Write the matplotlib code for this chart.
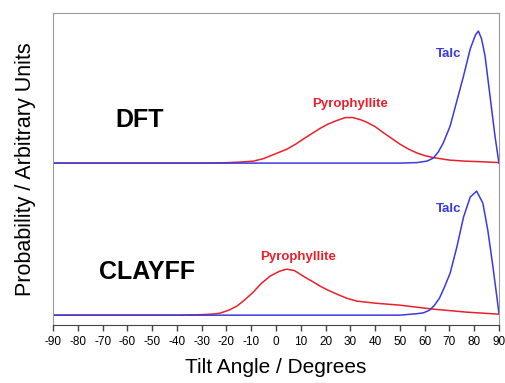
import matplotlib.pyplot as plt
import numpy as np

plt.rcParams['font.family'] = ['Liberation Sans', 'DejaVu Sans']

# tilt angle distributions, heights in arbitrary units above each baseline
dft_offset = 152

dft_pyro_x = [-90, -30, -20, -14.5, -9, -5, -2.5, 1, 4.5, 8, 11, 14.5, 18, 21, 24.5, 28, 31, 34, 36.5, 40, 43, 46.5, 50, 53.5, 57, 60, 63.5, 70, 76, 83.5, 90]
dft_pyro_y = [0, 0, 0.4, 1, 2, 4.5, 7, 10.5, 14, 19, 24, 29.5, 35, 39, 42.5, 45.5, 45.5, 43.5, 41, 36.5, 31, 25, 19, 14, 10, 7.5, 5.5, 3, 2, 1.3, 0.5]

dft_talc_x = [-90, 50, 57, 61, 63.5, 65.5, 67.5, 70.3, 73, 75.7, 78.4, 80.5, 81.7, 83, 84.4, 86.4, 88.4, 90]
dft_talc_y = [0, 0, 0.5, 2, 5, 11, 20, 37, 62, 87, 114, 128, 132, 124, 107, 67, 27, 0]

clay_pyro_x = [-90, -40, -30, -26, -22.6, -19, -15.8, -12.5, -9.2, -6, -2.4, 1.5, 4.4, 7.5, 11, 14.5, 17.8, 21, 24.6, 28.5, 32.7, 40, 50, 63.5, 77, 90]
clay_pyro_y = [0, 0, 0.5, 1, 2, 5, 9, 15.5, 23, 31.5, 39, 44, 46, 44.5, 39, 34, 29, 25, 21, 17, 14, 12, 10, 6, 3, 1]

clay_talc_x = [-90, 50, 57, 59.5, 62, 64, 66, 68, 70.3, 73, 75.7, 78.4, 81, 83.5, 85.5, 87.6, 90]
clay_talc_y = [0, 0, 1.5, 2.3, 5, 10, 17, 28, 42, 68, 98, 118, 124, 112, 85, 48, 2]

xticks = list(range(-90, 91, 10))

fig = plt.figure(figsize=(5.05, 3.83), dpi=100)
ax = fig.add_axes([0.105, 0.151, 0.883, 0.815])

red = '#e8202a'
blue = '#3a3ae0'

ax.plot(dft_pyro_x, np.array(dft_pyro_y) + dft_offset, color=red, lw=1.1)
ax.plot(dft_talc_x, np.array(dft_talc_y) + dft_offset, color=blue, lw=1.1)
ax.plot(clay_pyro_x, clay_pyro_y, color=red, lw=1.1)
ax.plot(clay_talc_x, clay_talc_y, color=blue, lw=1.1)

ax.text(-55, 195, 'DFT', fontsize=18, fontweight='bold', ha='center', va='center')
ax.text(-52, 43, 'CLAYFF', fontsize=18, fontweight='bold', ha='center', va='center')
ax.text(30, 211, 'Pyrophyllite', fontsize=9.5, fontweight='bold', color=red, ha='center', va='center')
ax.text(9, 58, 'Pyrophyllite', fontsize=9.5, fontweight='bold', color=red, ha='center', va='center')
ax.text(69.5, 261, 'Talc', fontsize=9.5, fontweight='bold', color=blue, ha='center', va='center')
ax.text(69.5, 106, 'Talc', fontsize=9.5, fontweight='bold', color=blue, ha='center', va='center')

ax.set_xlim(-90, 90)
ax.set_ylim(-10, 302)
ax.set_xticks(xticks)
ax.set_xticklabels([str(t) for t in xticks], fontsize=8.5)
ax.set_yticks([])
ax.tick_params(axis='x', length=4, width=1, color='#444444', pad=4)

for s in ['top', 'right', 'left']:
    ax.spines[s].set_color('#999999')
ax.spines['bottom'].set_color('#444444')

ax.set_xlabel('Tilt Angle / Degrees', fontsize=15, labelpad=7)
ax.set_ylabel('Probability / Arbitrary Units', fontsize=15.5, labelpad=12)

fig.savefig('out.png', dpi=100)
